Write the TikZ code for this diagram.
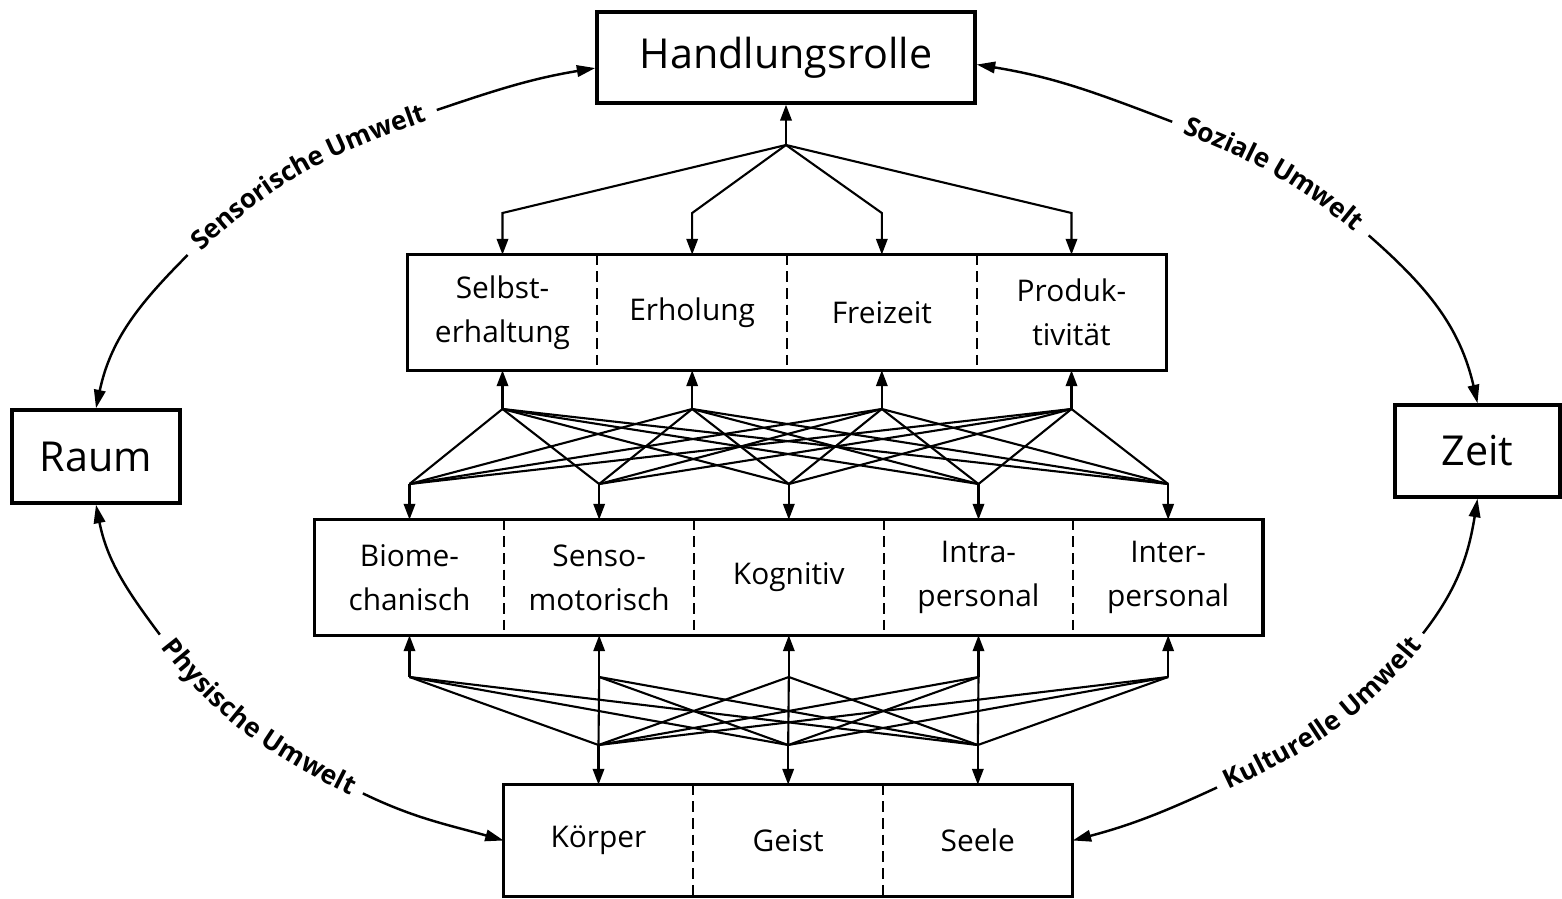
\documentclass[tikz,border=0pt]{standalone}
\usepackage{fontspec}
\setmainfont{Open Sans}
\usepackage{tikz}
\usetikzlibrary{arrows.meta, positioning, decorations.text}

\newcommand{\cellfont}{\fontsize{17}{25}\selectfont}
\newcommand{\titlefont}{\fontsize{23.5}{28}\selectfont}
\newcommand{\arcfont}{\bfseries\fontsize{15}{17}\selectfont}

\begin{document}
\begin{tikzpicture}[x=0.02cm, y=-0.02cm, % pixel-like units, y downwards
    box/.style={draw, line width=2pt, inner sep=0pt, font=\titlefont},
    cell/.style={minimum width=3.78cm, minimum height=2.3cm, inner sep=0pt, align=center, font=\cellfont},
    frame/.style={line width=2pt},
    divider/.style={line width=1.2pt, dash pattern=on 6pt off 3.5pt},
    link/.style={line width=1.2pt},
    arr/.style={link, -{Triangle[length=9pt, width=6.5pt]}},
    envline/.style={line width=1.4pt},
    tipA/.style={envline, {Triangle[length=10.5pt, width=6.5pt]}-},
    tipB/.style={envline, -{Triangle[length=10.5pt, width=6.5pt]}},
    envlabel/.style={decorate, decoration={text along path, text align=center, raise=-4pt, text={#1}}}
]
    \useasboundingbox (0,0) rectangle (1562,899);

    % Outer boxes
    \node[box, minimum width=7.56cm, minimum height=1.82cm] (hr) at (786,57.5) {Handlungsrolle};
    \node[box, minimum width=3.36cm, minimum height=1.86cm] (raum) at (96,456.5) {Raum};
    \node[box, minimum width=3.3cm, minimum height=1.84cm] (zeit) at (1477.5,451) {Zeit};

    % Upper row
    \node[cell] (sel) at (502.5,312.5) {Selbst-\\erhaltung};
    \node[cell, right=0pt of sel] (erh) {Erholung};
    \node[cell, right=0pt of erh] (frz) {Freizeit};
    \node[cell, right=0pt of frz] (prd) {Produk-\\tivität};
    \draw[frame] (sel.north west) rectangle (prd.south east);
    \foreach \c in {sel,erh,frz} \draw[divider] (\c.north east) -- (\c.south east);

    % Middle row
    \node[cell] (bio) at (409.5,577.5) {Biome-\\chanisch};
    \node[cell, right=0pt of bio] (sen) {Senso-\\motorisch};
    \node[cell, right=0pt of sen] (kog) {Kognitiv};
    \node[cell, right=0pt of kog] (ira) {Intra-\\personal};
    \node[cell, right=0pt of ira] (ier) {Inter-\\personal};
    \draw[frame] (bio.north west) rectangle (ier.south east);
    \foreach \c in {bio,sen,kog,ira} \draw[divider] (\c.north east) -- (\c.south east);

    % Lower row
    \node[cell, minimum height=2.22cm] (kor) at (598.5,840.5) {Körper};
    \node[cell, minimum height=2.22cm, right=0pt of kor] (gei) {Geist};
    \node[cell, minimum height=2.22cm, right=0pt of gei] (see) {Seele};
    \draw[frame] (kor.north west) rectangle (see.south east);
    \foreach \c in {kor,gei} \draw[divider] (\c.north east) -- (\c.south east);

    % Levels of the junctions
    \coordinate (hub) at (786,145);
    \coordinate (lvlB) at (0,213);
    \coordinate (lvlC) at (0,409);
    \coordinate (lvlD) at (0,484);
    \coordinate (lvlE) at (0,677);
    \coordinate (lvlF) at (0,745);

    % Fan to Handlungsrolle
    \draw[arr] (hub) -- (hr);
    \foreach \c in {sel,erh,frz,prd} {
        \coordinate (\c-top) at (\c.north |- lvlB);
        \draw[arr] (hub) -- (\c-top) -- (\c.north);
    }

    % Upper mesh
    \foreach \c in {sel,erh,frz,prd} {
        \coordinate (\c-bot) at (\c.south |- lvlC);
        \draw[arr] (\c-bot) -- (\c.south);
    }
    \foreach \c in {bio,sen,kog,ira,ier} {
        \coordinate (\c-top) at (\c.north |- lvlD);
        \draw[arr] (\c-top) -- (\c.north);
    }
    \foreach \a in {sel,erh,frz,prd}
        \foreach \b in {bio,sen,kog,ira,ier}
            \draw[link] (\a-bot) -- (\b-top);

    % Lower mesh
    \foreach \c in {bio,sen,kog,ira,ier} {
        \coordinate (\c-bot) at (\c.south |- lvlE);
        \draw[arr] (\c-bot) -- (\c.south);
    }
    \foreach \c in {kor,gei,see} {
        \coordinate (\c-top) at (\c.north |- lvlF);
        \draw[arr] (\c-top) -- (\c.north);
    }
    \foreach \a in {bio,sen,kog,ira,ier}
        \foreach \b in {kor,gei,see}
            \draw[link] (\a-bot) -- (\b-top);

    % Sensorische Umwelt
    \coordinate (sensA) at (187.7,255);
    \coordinate (sensB) at (436.8,110);
    \draw[tipA] (raum.north) to[out=78, in=225] (sensA);
    \path[envlabel={|\arcfont|Sensorische Umwelt}] (sensA) to[out=45, in=198.7] (sensB);
    \draw[tipB] (sensB) to[out=18.7, in=189.4] ([yshift=-6pt]hr.west);

    % Soziale Umwelt
    \coordinate (soziA) at (1172.2,121.8);
    \coordinate (soziB) at (1368.7,235.4);
    \draw[tipA] ([yshift=-4pt]hr.east) to[out=-9.2, in=159.1] (soziA);
    \path[envlabel={|\arcfont|Soziale Umwelt}] (soziA) to[out=-20.9, in=138.8] (soziB);
    \draw[tipB] (soziB) to[out=-41.2, in=102.9] (zeit.north);

    % Physische Umwelt
    \coordinate (physA) at (159.8,634.6);
    \coordinate (physB) at (362.9,793.4);
    \draw[tipA] (raum.south) to[out=-78.8, in=126.8] (physA);
    \path[envlabel={|\arcfont|Physische Umwelt}] (physA) to[out=-53.2, in=154.2] (physB);
    \draw[tipB] (physB) to[out=-25.8, in=164.1] (kor.west);

    % Kulturelle Umwelt
    \coordinate (kultA) at (1217,787.5);
    \coordinate (kultB) at (1423,633.4);
    \draw[tipA] (see.east) to[out=14.8, in=204.8] (kultA);
    \path[envlabel={|\arcfont|Kulturelle Umwelt}] (kultA) to[out=24.8, in=232.2] (kultB);
    \draw[tipB] (kultB) to[out=52.2, in=260.9] (zeit.south);
\end{tikzpicture}
\end{document}
